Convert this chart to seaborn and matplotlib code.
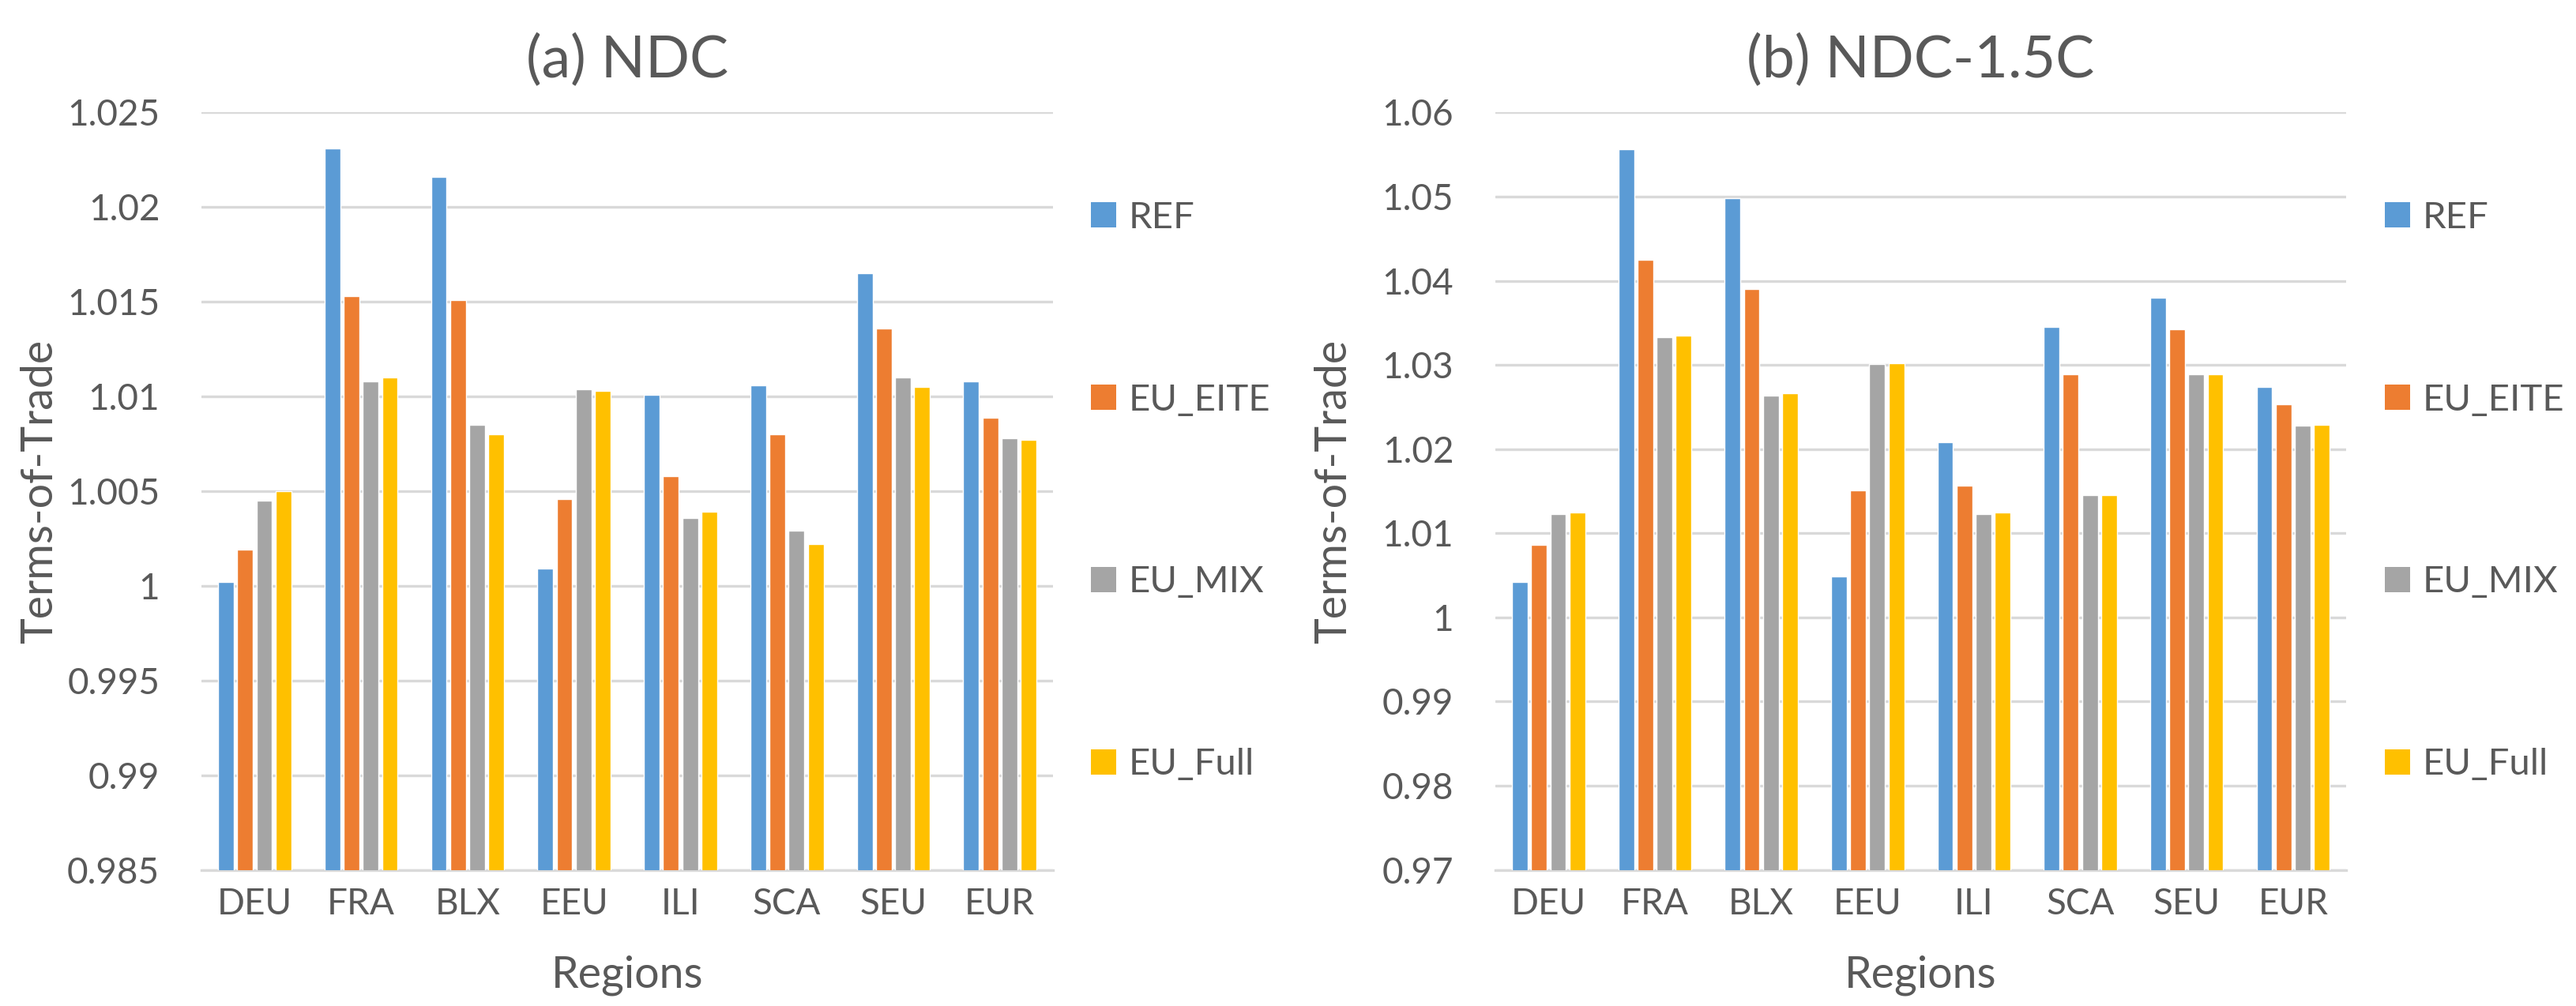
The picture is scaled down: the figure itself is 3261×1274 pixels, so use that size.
import matplotlib
matplotlib.use("Agg")
import matplotlib.pyplot as plt
from matplotlib.patches import Patch
from matplotlib.ticker import FixedLocator, FuncFormatter
import seaborn as sns
import pandas as pd
import numpy as np

regions = ["DEU", "FRA", "BLX", "EEU", "ILI", "SCA", "SEU", "EUR"]
scenarios = ["REF", "EU_EITE", "EU_MIX", "EU_Full"]

# (a) NDC
ndc_ref = [1.0002, 1.0231, 1.0216, 1.0009, 1.0101, 1.0106, 1.0165, 1.0108]
ndc_eite = [1.0019, 1.0153, 1.0151, 1.0046, 1.0058, 1.0080, 1.0136, 1.0089]
ndc_mix = [1.0045, 1.0108, 1.0085, 1.0104, 1.0036, 1.0029, 1.0110, 1.0078]
ndc_full = [1.0050, 1.0110, 1.0080, 1.0103, 1.0039, 1.0022, 1.0105, 1.0077]

# (b) NDC-1.5C
c15_ref = [1.0042, 1.0556, 1.0498, 1.0049, 1.0208, 1.0345, 1.0380, 1.0274]
c15_eite = [1.0086, 1.0425, 1.0390, 1.0151, 1.0157, 1.0289, 1.0342, 1.0253]
c15_mix = [1.0123, 1.0333, 1.0264, 1.0301, 1.0123, 1.0145, 1.0289, 1.0228]
c15_full = [1.0125, 1.0335, 1.0266, 1.0302, 1.0125, 1.0145, 1.0289, 1.0229]

ticks_a = [0.985, 0.99, 0.995, 1.0, 1.005, 1.01, 1.015, 1.02, 1.025]
ticks_b = [0.97, 0.98, 0.99, 1.0, 1.01, 1.02, 1.03, 1.04, 1.05, 1.06]

titles = ["(a) NDC", "(b) NDC-1.5C"]
xlabel = "Regions"
ylabel = "Terms-of-Trade"

colors = ["#5B9BD5", "#ED7D31", "#A5A5A5", "#FFC000"]
grid_c = "#D9D9D9"
text_c = "#595959"


def long_df(series):
    rows = []
    for s, vals in zip(scenarios, series):
        for r, v in zip(regions, vals):
            rows.append({"Region": r, "Scenario": s, "Value": v})
    return pd.DataFrame(rows)


df_a = long_df([ndc_ref, ndc_eite, ndc_mix, ndc_full])
df_b = long_df([c15_ref, c15_eite, c15_mix, c15_full])

sns.set_theme(style="white")
plt.rcParams["font.family"] = ["Lato", "DejaVu Sans"]
plt.rcParams["text.color"] = text_c

fig = plt.figure(figsize=(32.61, 12.74), dpi=100)
ax1 = fig.add_axes([0.0782, 0.1353, 0.3306, 0.7529])
ax2 = fig.add_axes([0.5805, 0.1353, 0.3303, 0.7529])

fmt = FuncFormatter(lambda v, p: f"{round(v, 4):g}")

for ax, df, ticks, title, legx in [
    (ax1, df_a, ticks_a, titles[0], 1.0445),
    (ax2, df_b, ticks_b, titles[1], 1.0455),
]:
    sns.barplot(data=df, x="Region", y="Value", hue="Scenario",
                hue_order=scenarios, order=regions, palette=colors,
                width=0.72, gap=0.18, saturation=1, legend=False,
                errorbar=None, ax=ax, zorder=3)
    ax.set_ylim(ticks[0], ticks[-1])
    ax.set_xlim(-0.5, len(regions) - 0.5)
    ax.yaxis.set_major_locator(FixedLocator(ticks))
    ax.yaxis.set_major_formatter(fmt)
    ax.set_axisbelow(True)
    ax.grid(axis="y", color=grid_c, linewidth=2.4)
    ax.grid(axis="x", visible=False)
    for sp in ["top", "right", "left"]:
        ax.spines[sp].set_visible(False)
    ax.spines["bottom"].set_color(grid_c)
    ax.spines["bottom"].set_linewidth(2.4)
    ax.tick_params(axis="y", length=0, pad=38, labelsize=33, labelcolor=text_c)
    ax.tick_params(axis="x", length=0, pad=16, labelsize=33, labelcolor=text_c)
    ax.set_title(title, fontsize=53, color=text_c, pad=32)
    ax.set_xlabel(xlabel, fontsize=40, color=text_c, va="center")
    ax.xaxis.set_label_coords(0.5, -0.139)
    ax.set_ylabel(ylabel, fontsize=40, color=text_c, va="center")
    ax.yaxis.set_label_coords(-0.19, 0.5)
    handles = [Patch(facecolor=c, edgecolor="none") for c in colors]
    ax.legend(handles, scenarios, loc="center left", bbox_to_anchor=(legx, 0.5),
              frameon=False, fontsize=34, handlelength=0.68, handleheight=0.68,
              handletextpad=0.32, labelspacing=4.0, borderpad=0, borderaxespad=0,
              labelcolor=text_c)

fig.savefig("out.png", dpi=100, facecolor="white")
